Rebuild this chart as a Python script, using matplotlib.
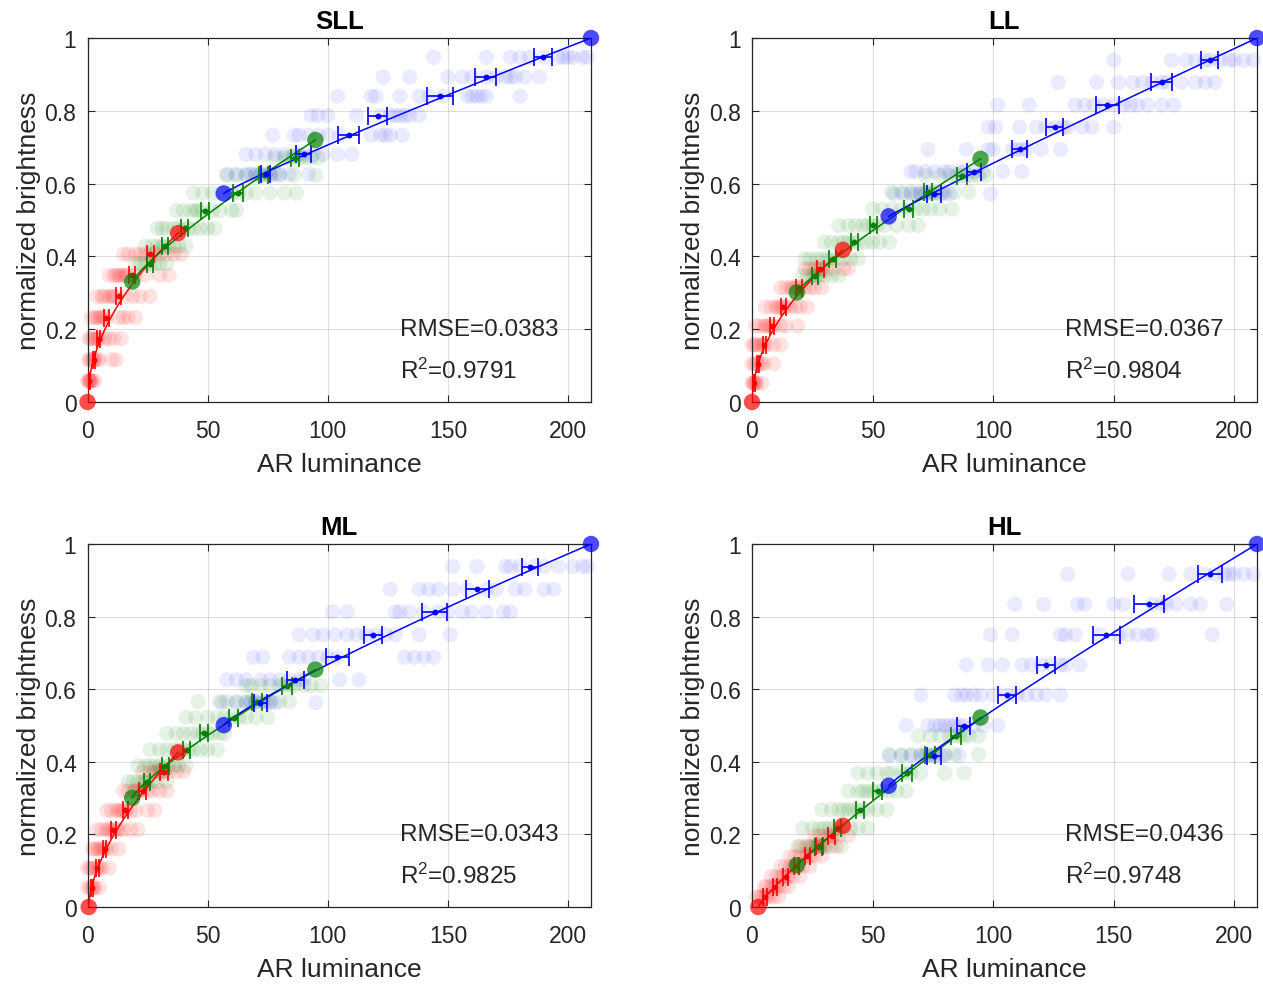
import numpy as np
import matplotlib
matplotlib.use("Agg")
import matplotlib.pyplot as plt
from matplotlib.ticker import FuncFormatter

plt.rcParams['font.family'] = ['Liberation Sans', 'DejaVu Sans']
plt.rcParams['mathtext.fontset'] = 'custom'
plt.rcParams['mathtext.rm'] = 'Liberation Sans'
plt.rcParams['mathtext.it'] = 'Liberation Sans'
plt.rcParams['mathtext.bf'] = 'Liberation Sans:bold'

# ---------------- data ----------------
titles = ["SLL", "LL", "ML", "HL"]
rmse_vals = ["0.0383", "0.0367", "0.0343", "0.0436"]
r2_vals = ["0.9791", "0.9804", "0.9825", "0.9748"]
x_ticks = [0, 50, 100, 150, 200]
y_ticks = [0, 0.2, 0.4, 0.6, 0.8, 1.0]

# anchors: red lo, red hi, green lo, green hi, blue lo, blue hi
SLL_anchor_x = [0, 37.7, 18.6, 94.8, 56.7, 209.5]
SLL_anchor_y = [0, 0.464, 0.331, 0.720, 0.573, 1.0]
SLL_red_y = [0.058, 0.116, 0.174, 0.232, 0.290, 0.348, 0.406]
SLL_red_mean = [0.8, 2.6, 4.7, 7.9, 13.0, 18.6, 26.2]
SLL_red_err = [0.3, 0.5, 0.7, 0.9, 1.1, 1.3, 1.6]
SLL_red_pts = [[0, 0.5, 1, 1, 1.5, 2, 3],
               [0.5, 1, 2, 2.5, 3, 4, 5, 10, 12],
               [0.5, 1.5, 2.5, 3.5, 4, 5, 7, 9, 11, 14],
               [1.5, 3, 4, 5, 6, 7, 8, 13, 15, 17, 20],
               [4, 6, 7, 9, 10, 11, 12, 16, 19, 22, 26],
               [9, 11, 12, 13, 14, 15, 16, 17, 20, 24, 30, 34],
               [15, 17, 20, 22, 24, 26, 28, 30, 33, 36, 39]]
SLL_green_y = [0.380, 0.428, 0.477, 0.526, 0.574, 0.623, 0.671]
SLL_green_mean = [25.9, 32.4, 40.4, 48.8, 62.6, 73.3, 86.4]
SLL_green_err = [1.2, 1.3, 1.5, 1.7, 2.0, 1.8, 1.6]
SLL_green_pts = [[20, 22, 24, 26, 28, 30, 33],
                 [24, 27, 29, 31, 32, 34, 36, 38, 41],
                 [29, 31, 33, 36, 38, 40, 42, 44, 47, 50, 53],
                 [37, 40, 43, 45, 46, 48, 52, 55, 60, 62],
                 [44, 48, 52, 56, 60, 63, 66, 70, 76, 82, 87],
                 [58, 62, 66, 70, 72, 74, 76, 80, 86, 95],
                 [78, 82, 84, 86, 88, 90, 93, 96]]
SLL_blue_y = [0.626, 0.680, 0.733, 0.787, 0.840, 0.893, 0.947]
SLL_blue_mean = [74.1, 89.9, 108.6, 120.7, 146.7, 165.7, 189.6]
SLL_blue_err = [1.9, 3.0, 4.2, 4.1, 5.3, 4.3, 3.7]
SLL_blue_pts = [[58, 62, 66, 68, 70, 72, 74, 76, 78, 80, 84, 92],
                [66, 70, 74, 78, 82, 86, 88, 90, 94, 98, 104, 110],
                [77, 86, 88, 92, 96, 100, 105, 118, 122, 124, 126, 131],
                [93, 96, 100, 112, 122, 126, 128, 130, 132, 134, 138],
                [104, 118, 120, 130, 138, 142, 148, 158, 160, 162, 164, 166, 180],
                [123, 134, 150, 156, 160, 166, 170, 174, 176, 178, 182, 188],
                [144, 166, 176, 180, 184, 190, 196, 198, 200, 202, 206, 208]]

LL_anchor_x = [0, 37.7, 18.6, 94.8, 56.7, 209.5]
LL_anchor_y = [0, 0.418, 0.301, 0.668, 0.510, 1.0]
LL_red_y = [0.052, 0.105, 0.157, 0.209, 0.261, 0.314, 0.366]
LL_red_mean = [0.8, 2.4, 5.1, 8.2, 13.0, 19.5, 28.3]
LL_red_err = [0.3, 0.5, 0.7, 0.9, 1.1, 1.3, 1.5]
LL_red_pts = [[0, 0.5, 1, 1.5, 2, 4],
              [0, 1, 2, 3, 4, 5, 9],
              [0, 1, 2, 3, 4, 5, 6, 9, 12],
              [1.5, 3, 5, 6, 7, 8, 9, 12, 14, 19],
              [5.5, 8, 10, 11, 12, 13, 14, 16, 18, 20, 23],
              [12, 14, 16, 17, 18, 19, 20, 22, 24, 26, 29],
              [22, 24, 26, 27, 28, 29, 31, 34, 38, 40]]
LL_green_y = [0.347, 0.393, 0.439, 0.485, 0.530, 0.576, 0.622]
LL_green_mean = [26.2, 33.4, 42.5, 50.4, 65.0, 73.0, 87.1]
LL_green_err = [1.2, 1.3, 1.5, 1.6, 1.8, 1.7, 1.9]
LL_green_pts = [[21, 23, 25, 26, 27, 28, 30, 33, 36],
                [22, 24, 27, 29, 31, 33, 35, 38, 41, 44],
                [30, 33, 36, 38, 40, 42, 44, 47, 50, 53, 57],
                [36, 40, 43, 46, 48, 50, 52, 55, 60, 65, 69],
                [50, 54, 58, 62, 65, 68, 71, 74, 78, 83],
                [58, 62, 66, 70, 72, 74, 76, 79, 84, 90],
                [72, 78, 82, 85, 87, 89, 91, 94, 97]]
LL_blue_y = [0.572, 0.633, 0.694, 0.755, 0.816, 0.878, 0.939]
LL_blue_mean = [75.6, 92.0, 111.1, 125.5, 147.4, 169.9, 189.8]
LL_blue_err = [2.8, 2.8, 3.1, 3.4, 4.7, 4.4, 3.5]
LL_blue_pts = [[59, 63, 66, 68, 70, 72, 74, 76, 78, 80, 82, 99],
               [66, 68, 72, 76, 80, 82, 86, 88, 92, 96, 104, 112],
               [73, 89, 98, 100, 108, 110, 112, 114, 120, 128],
               [98, 101, 111, 118, 122, 126, 129, 131, 137, 141, 150],
               [102, 115, 134, 138, 142, 146, 150, 154, 157, 160, 164, 170, 175],
               [127, 143, 152, 158, 162, 166, 170, 172, 178, 184, 188, 192],
               [150, 174, 180, 184, 188, 190, 194, 198, 200, 204, 208]]

ML_anchor_x = [0.5, 37.7, 18.6, 94.8, 56.7, 209.5]
ML_anchor_y = [0, 0.426, 0.301, 0.654, 0.501, 1.0]
ML_red_y = [0.053, 0.107, 0.160, 0.213, 0.266, 0.320, 0.373]
ML_red_mean = [1.9, 4.0, 7.1, 10.7, 15.8, 23.0, 31.7]
ML_red_err = [0.4, 0.6, 0.8, 1.0, 1.2, 1.4, 1.6]
ML_red_pts = [[0, 1, 2, 2.5, 3, 5],
              [0, 1, 2, 3, 4, 5, 6, 9],
              [2, 3, 4, 5, 6, 7, 8, 10, 13],
              [4, 6, 8, 9, 10, 11, 12, 13, 15, 18, 21],
              [8, 10, 12, 13, 14, 15, 16, 18, 20, 25, 28],
              [15, 17, 19, 20, 21, 22, 23, 25, 27, 30, 33],
              [23, 26, 28, 29, 30, 31, 32, 34, 37, 40]]
ML_green_y = [0.345, 0.389, 0.433, 0.478, 0.522, 0.566, 0.610]
ML_green_mean = [24.8, 32.4, 41.2, 48.6, 60.8, 70.5, 83.0]
ML_green_err = [1.3, 1.4, 1.5, 1.7, 2.0, 1.9, 2.0]
ML_green_pts = [[17, 19, 21, 23, 24, 25, 27, 29, 33],
                [21, 24, 26, 28, 30, 32, 34, 36, 38, 41],
                [26, 30, 33, 36, 38, 40, 42, 44, 47, 50, 54],
                [33, 37, 40, 43, 46, 48, 50, 52, 55, 57],
                [41, 45, 50, 54, 57, 60, 63, 66, 70, 75],
                [46, 55, 58, 62, 66, 68, 70, 73, 76, 80, 84],
                [66, 68, 72, 76, 80, 82, 84, 86, 90, 93, 97]]
ML_blue_y = [0.563, 0.626, 0.688, 0.750, 0.813, 0.875, 0.938]
ML_blue_mean = [71.9, 86.5, 104.0, 118.7, 144.4, 162.2, 184.1]
ML_blue_err = [2.8, 3.5, 4.7, 3.8, 5.3, 4.7, 3.5]
ML_blue_pts = [[56, 62, 66, 68, 70, 72, 74, 76, 78, 95],
               [58, 62, 66, 72, 76, 80, 84, 88, 90, 105, 113],
               [69, 73, 84, 88, 92, 96, 100, 104, 132, 136, 140, 144],
               [88, 94, 98, 103, 108, 112, 116, 120, 124, 128, 138, 151],
               [102, 108, 128, 130, 134, 140, 146, 150, 156, 160, 166, 173, 176],
               [126, 138, 142, 146, 152, 158, 166, 170, 178, 182, 190, 194],
               [152, 162, 174, 176, 180, 186, 190, 196, 202, 206, 208]]

HL_anchor_x = [2.6, 37.7, 18.6, 94.8, 56.7, 209.5]
HL_anchor_y = [0, 0.224, 0.115, 0.522, 0.334, 1.0]
HL_red_y = [0.028, 0.056, 0.084, 0.112, 0.140, 0.168, 0.196]
HL_red_mean = [5.5, 9.5, 14.0, 18.5, 23.0, 28.0, 33.0]
HL_red_err = [0.8, 0.9, 1.0, 1.1, 1.2, 1.3, 1.4]
HL_red_pts = [[2, 3, 4, 5, 6, 7, 9, 11],
              [5, 6, 8, 9, 10, 11, 13, 15],
              [8, 10, 12, 13, 14, 15, 17, 20],
              [12, 14, 16, 17, 18, 19, 21, 24],
              [16, 18, 20, 22, 23, 24, 26, 29],
              [20, 23, 25, 27, 28, 29, 31, 35],
              [26, 28, 30, 32, 33, 34, 36, 40]]
HL_green_y = [0.166, 0.217, 0.268, 0.319, 0.369, 0.420, 0.471]
HL_green_mean = [27.6, 35.6, 44.9, 52.2, 64.3, 74.0, 84.7]
HL_green_err = [1.4, 1.5, 1.7, 1.8, 2.0, 2.1, 2.2]
HL_green_pts = [[19, 22, 24, 26, 27, 28, 30, 33, 37],
                [21, 25, 28, 30, 32, 34, 36, 38, 41, 44, 48],
                [29, 33, 36, 38, 40, 42, 44, 46, 48, 52, 56],
                [40, 44, 46, 48, 50, 52, 54, 57, 60, 64],
                [44, 48, 52, 56, 58, 62, 64, 66, 70, 80, 88],
                [57, 62, 66, 70, 72, 74, 76, 80, 84, 94],
                [69, 74, 78, 82, 84, 86, 88, 90, 94]]
HL_blue_y = [0.417, 0.500, 0.584, 0.667, 0.750, 0.834, 0.917]
HL_blue_mean = [75.4, 87.8, 105.9, 122.0, 147.0, 164.7, 190.1]
HL_blue_err = [2.8, 2.6, 3.8, 3.8, 5.5, 6.2, 5.0]
HL_blue_pts = [[57, 62, 66, 70, 72, 74, 76, 78, 80, 86],
               [64, 73, 76, 78, 80, 82, 84, 86, 88, 92, 96, 102],
               [70, 84, 87, 89, 92, 95, 100, 106, 110, 114, 118, 122, 128],
               [89, 98, 104, 112, 116, 120, 124, 128, 130, 136],
               [99, 108, 128, 130, 134, 144, 152, 156, 160, 164, 166, 191],
               [109, 121, 135, 138, 150, 154, 166, 170, 172, 176, 182, 186, 197],
               [131, 156, 173, 182, 188, 192, 196, 198, 200, 204, 208]]

# ---------------- styling ----------------
RED = (1.0, 0.0, 0.0)
GREEN = (0.0, 0.5, 0.0)
BLUE = (0.0, 0.0, 1.0)
DARK = (0.15, 0.15, 0.15)

panels = [
    (SLL_anchor_x, SLL_anchor_y,
     (SLL_red_y, SLL_red_mean, SLL_red_err, SLL_red_pts),
     (SLL_green_y, SLL_green_mean, SLL_green_err, SLL_green_pts),
     (SLL_blue_y, SLL_blue_mean, SLL_blue_err, SLL_blue_pts)),
    (LL_anchor_x, LL_anchor_y,
     (LL_red_y, LL_red_mean, LL_red_err, LL_red_pts),
     (LL_green_y, LL_green_mean, LL_green_err, LL_green_pts),
     (LL_blue_y, LL_blue_mean, LL_blue_err, LL_blue_pts)),
    (ML_anchor_x, ML_anchor_y,
     (ML_red_y, ML_red_mean, ML_red_err, ML_red_pts),
     (ML_green_y, ML_green_mean, ML_green_err, ML_green_pts),
     (ML_blue_y, ML_blue_mean, ML_blue_err, ML_blue_pts)),
    (HL_anchor_x, HL_anchor_y,
     (HL_red_y, HL_red_mean, HL_red_err, HL_red_pts),
     (HL_green_y, HL_green_mean, HL_green_err, HL_green_pts),
     (HL_blue_y, HL_blue_mean, HL_blue_err, HL_blue_pts)),
]

W, H = 1263, 987
fig = plt.figure(figsize=(W / 100, H / 100), dpi=100)

# axes rectangles in pixels: left, top, right, bottom
rects = [(87.5, 39, 591, 403), (752, 39, 1257, 403),
         (87.5, 545, 591, 908), (752, 545, 1257, 908)]


def fit_segment(ax, x0, y0, x1, y1, means, ys, color):
    xm = np.asarray(means, float)
    ym = np.asarray(ys, float)
    t = (xm - x0) / (x1 - x0)
    u = (ym - y0) / (y1 - y0)
    ok = (t > 0) & (u > 0)
    a = np.log(t[ok])
    b = np.log(u[ok])
    g = np.sum(a * b) / np.sum(a * a)
    xx = np.linspace(x0, x1, 300)
    yy = y0 + (y1 - y0) * ((xx - x0) / (x1 - x0)) ** g
    ax.plot(xx, yy, color=color, lw=1.1, zorder=3)


for i, (axx, axy, red, green, blue) in enumerate(panels):
    l, t, r, b = rects[i]
    ax = fig.add_axes([l / W, 1 - b / H, (r - l) / W, (b - t) / H])
    ax.set_xlim(0, 209.5)
    ax.set_ylim(0, 1)

    segs = [(red, RED, 0.11, 0, 1), (green, GREEN, 0.10, 2, 3), (blue, BLUE, 0.08, 4, 5)]
    # scatter clouds
    for (ys, means, errs, pts), c, alp, i0, i1 in segs:
        for y, p in zip(ys, pts):
            ax.scatter(p, [y] * len(p), s=120, color=c, alpha=alp,
                       edgecolors='none', zorder=2, clip_on=False)
    # fit lines
    for (ys, means, errs, pts), c, alp, i0, i1 in segs:
        fit_segment(ax, axx[i0], axy[i0], axx[i1], axy[i1], means, ys, c)
    # error bars
    for (ys, means, errs, pts), c, alp, i0, i1 in segs:
        ax.errorbar(means, ys, xerr=errs, fmt='o', color=c, ms=3.2,
                    elinewidth=1.2, capsize=6.5, capthick=1.2, zorder=4)
    # anchors
    for (ys, means, errs, pts), c, alp, i0, i1 in segs:
        ax.scatter([axx[i0], axx[i1]], [axy[i0], axy[i1]], s=140, color=c,
                   alpha=0.7, edgecolors='none', zorder=5, clip_on=False)

    ax.text(130, 0.2, "RMSE=" + rmse_vals[i], fontsize=17.5, color=DARK,
            ha='left', va='center', zorder=6)
    ax.text(130, 0.088, "R$^{2}$=" + r2_vals[i], fontsize=17.5, color=DARK,
            ha='left', va='center', zorder=6)

    ax.set_xticks(x_ticks)
    ax.set_yticks(y_ticks)
    ax.yaxis.set_major_formatter(FuncFormatter(lambda v, p: "%g" % v))
    ax.grid(True, color=DARK, alpha=0.15, linewidth=0.8)
    ax.set_axisbelow(True)
    ax.tick_params(direction='in', top=True, right=True, length=5, width=0.8,
                   colors=DARK, labelsize=16.5)
    ax.tick_params(axis='x', pad=12)
    ax.tick_params(axis='y', pad=8)
    for sp in ax.spines.values():
        sp.set_color(DARK)
        sp.set_linewidth(0.9)
    ax.set_title(titles[i], fontsize=18.5, fontweight='bold', color='black', pad=7)
    ax.set_xlabel("AR luminance", fontsize=19, color=DARK)
    ax.set_ylabel("normalized brightness", fontsize=19, color=DARK)
    ax.xaxis.set_label_coords(0.5, -0.138)
    ax.yaxis.set_label_coords(-0.093, 0.5)

fig.savefig("out.png", dpi=100)
